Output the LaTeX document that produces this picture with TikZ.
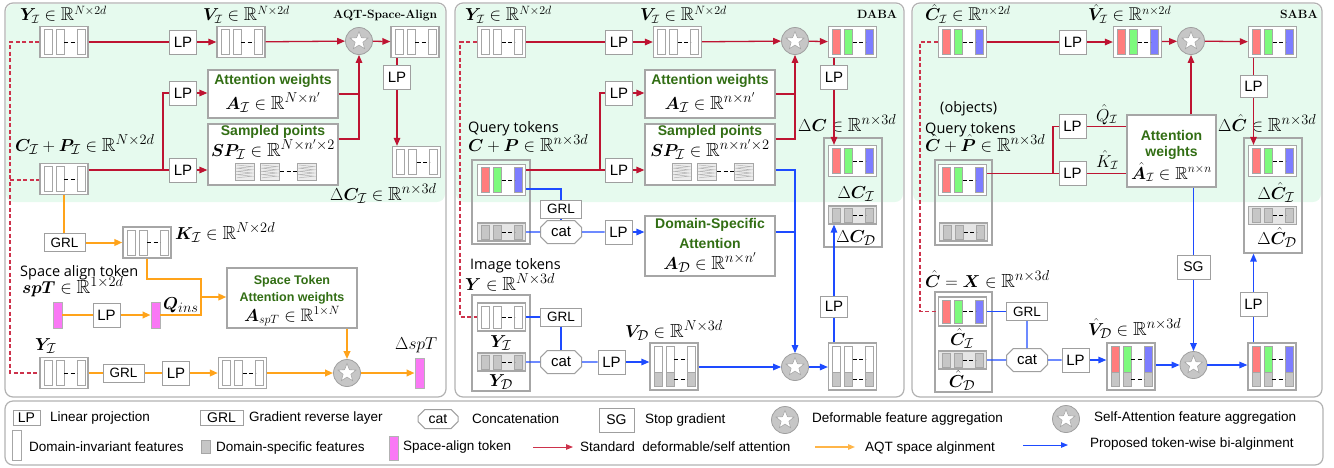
\documentclass[tikz,border=0pt]{standalone}
\usepackage{fontspec}
\usepackage{amsmath,amssymb,bm}
\newfontfamily\sansf{Liberation Sans}
\newfontfamily\opsf{Open Sans}
\usetikzlibrary{arrows.meta,shapes.geometric,shapes.misc,calc}
\definecolor{cRed}{RGB}{190,20,50}
\definecolor{cRedD}{RGB}{205,50,75}
\definecolor{cOra}{RGB}{255,163,26}
\definecolor{cBlu}{RGB}{30,75,255}
\definecolor{cGrn}{RGB}{50,110,20}
\definecolor{cBg}{RGB}{230,250,238}
\definecolor{cPink}{RGB}{250,120,245}
\definecolor{barR}{RGB}{255,125,125}
\definecolor{barG}{RGB}{125,250,125}
\definecolor{barB}{RGB}{125,125,255}
\tikzset{
  rl/.style={draw=cRed, line width=1.3pt},
  rd/.style={draw=cRedD, line width=1.1pt, dash pattern=on 4pt off 2.5pt},
  ol/.style={draw=cOra, line width=2pt},
  bl/.style={draw=cBlu, line width=1.3pt},
  arr/.style={-{Triangle[length=8pt,width=6.5pt]}},
  lp/.style={draw=gray!75, fill=white, line width=1pt, font=\sansf\fontsize{15}{15}\selectfont, minimum width=27pt, minimum height=24pt, inner sep=0pt},
  grl/.style={lp, font=\sansf\fontsize{13.5}{13.5}\selectfont, minimum width=41pt, minimum height=18pt},
  sgn/.style={lp, font=\sansf\fontsize{14}{14}\selectfont, minimum width=33pt, minimum height=24pt},
  catn/.style={chamfered rectangle, chamfered rectangle xsep=4pt, draw=gray!75, fill=white, line width=1pt, minimum width=41pt, minimum height=23pt, inner sep=0pt, font=\sansf\fontsize{15}{15}\selectfont},
  aggc/.style={circle, draw=gray!75, fill=gray!45, line width=0.8pt, minimum size=27pt, inner sep=0pt},
  aggs/.style={star, star points=5, star point ratio=2.3, draw=gray!70, fill=white, minimum size=19pt, inner sep=0pt, line width=0.6pt},
  fbox/.style={draw=gray!70, fill=white, line width=1.2pt, minimum width=48pt, inner sep=0pt},
  bar/.style={draw=gray!70, fill=white, line width=0.8pt},
  dsh/.style={draw=black, line width=0.8pt, dash pattern=on 4pt off 2.5pt},
  bx/.style={draw=gray!70, fill=white, line width=1.2pt, inner sep=0pt},
  obox/.style={draw=gray!70, line width=1.2pt, inner sep=0pt},
  pnl/.style={draw=gray!60, line width=1.2pt, rounded corners=8pt},
  pinkn/.style={draw=gray!60, fill=cPink, line width=0.8pt, minimum width=9pt, inner sep=0pt},
  ml/.style={font=\fontsize{19}{19}\selectfont, anchor=base west, inner sep=0pt},
  mt/.style={font=\fontsize{18.5}{18.5}\selectfont, anchor=base west, inner sep=0pt},
  mc/.style={font=\fontsize{19}{19}\selectfont, anchor=base, inner sep=0pt},
  gt/.style={text=cGrn, font=\sansf\bfseries\fontsize{14}{14}\selectfont, inner sep=0pt},
  gts/.style={text=cGrn, font=\sansf\bfseries\fontsize{12.5}{12.5}\selectfont, inner sep=0pt},
  ttl/.style={font=\bfseries\fontsize{12}{12}\selectfont, anchor=base west, inner sep=0pt},
  ot/.style={font=\opsf\fontsize{14.5}{14.5}\selectfont, anchor=base west, inner sep=0pt},
  lt/.style={font=\sansf\fontsize{13.5}{13.5}\selectfont, anchor=west, inner sep=0pt},
}
% name, cx, cy, height, three bar colours
\newcommand{\feat}[7]{%
  \node[fbox, minimum height=#4] (#1) at (#2,#3) {};
  \foreach \o/\c in {4/#5,16/#6,37/#7}{\draw[bar, fill=\c] ({#2-24+\o},{#3-#4/2+3}) rectangle ++(8,{#4-6});}
  \draw[dsh] ({#2},{#3}) -- ({#2+13},{#3});
}
\newcommand{\featG}[3]{%
  \node[fbox, fill=gray!20, minimum height=18pt] (#1) at (#2,#3) {};
  \foreach \o in {4,16,37}{\draw[bar, fill=gray!45] ({#2-24+\o},{#3-7}) rectangle ++(8,14);}
  \draw[dsh] ({#2},{#3}) -- ({#2+13},{#3});
}
\newcommand{\featM}[6]{%
  \node[fbox, minimum height=47pt] (#1) at (#2,#3) {};
  \foreach \o/\c in {4/#4,16/#5,37/#6}{%
    \draw[bar, fill=\c] ({#2-24+\o},{#3-20}) rectangle ++(8,26);
    \draw[bar, fill=gray!45] ({#2-24+\o},{#3+6}) rectangle ++(8,14);}
  \draw[dsh] ({#2},{#3-7}) -- ({#2+13},{#3-7});
  \draw[dsh] ({#2},{#3+13}) -- ({#2+13},{#3+13});
}
\newcommand{\agg}[3]{%
  \node[aggc] (#1) at (#2,#3) {};
  \node[aggs] (#1st) at (#2,#3) {};
}
\newcommand{\hatchrow}[2]{%
  \foreach \o in {27,52,89}{%
    \draw[draw=gray!70, fill=gray!15, line width=0.8pt] ({#1+\o},{#2}) rectangle ++(19,17);
    \draw[gray!60, line width=0.5pt] ({#1+\o+2},{#2+2}) \foreach \k in {1,...,8}{ -- ({#1+\o+2+15*mod(\k,2)},{#2+2+1.6*\k}) };
  }
  \draw[dsh] ({#1+72},{#2+8.5}) -- ({#1+89},{#2+8.5});
}
\begin{document}
\begin{tikzpicture}[x=1pt,y=-1pt]
\useasboundingbox (0,0) rectangle (1334,467);
% ---------------- backgrounds
\fill[cBg, rounded corners=8pt] (6,4) rectangle (445,202);
\fill[cBg, rounded corners=8pt] (456,4) rectangle (903,202);
\fill[cBg, rounded corners=8pt] (913,4) rectangle (1321,202);
\draw[pnl] (5,3) rectangle (446,397);
\draw[pnl] (455,3) rectangle (904,397);
\draw[pnl] (912,3) rectangle (1322,397);
\draw[pnl] (5,401) rectangle (1323,465);

% ================= Panel 1: AQT-Space-Align
\node[mt] (l11) at (20,20.5) {$\bm{Y}_{\mathcal{I}}\in\mathbb{R}^{N\times 2d}$};
\node[mt] (l12) at (203,20.5) {$\bm{V}_{\mathcal{I}}\in\mathbb{R}^{N\times 2d}$};
\node[ttl] (l13) at (333,18) {AQT-Space-Align};
\node[ml] (l14) at (15,151) {$\bm{C}_{\mathcal{I}}+\bm{P}_{\mathcal{I}}\in\mathbb{R}^{N\times 2d}$};
\node[ml] (l15) at (330,200) {$\Delta\bm{C}_{\mathcal{I}}\in\mathbb{R}^{n\times 3d}$};

\feat{p1y}{64}{42}{31}{white}{white}{white}
\node[lp] (p1lp1) at (183,42) {LP};
\feat{p1v}{241}{42}{31}{white}{white}{white}
\agg{p1s}{359}{41}
\feat{p1o}{415}{42}{31}{white}{white}{white}
\node[lp] (p1lp2) at (397,77) {LP};
\feat{p1dc}{416.5}{162}{31}{white}{white}{white}
\node[bx, minimum width=130pt, minimum height=48pt] (p1att) at (273,94) {};
\node[gt] (l16) at (273,81) {Attention weights};
\node[mc] (l17) at (273,109) {$\bm{A}_{\mathcal{I}}\in\mathbb{R}^{N\times n'}$};
\node[lp] (p1lpa) at (183,93) {LP};
\node[lp] (p1lpb) at (183,170) {LP};
\node[bx, minimum width=130pt, minimum height=61pt] (p1sp) at (273,154.5) {};
\node[gt] (l18) at (273,132) {Sampled points};
\node[mc] (l19) at (273,156) {$\bm{SP}_{\mathcal{I}}\in\mathbb{R}^{N\times n'\times 2}$};
\hatchrow{208}{163}
\feat{p1c}{64}{179}{31}{white}{white}{white}

\draw[rl] (p1y) -- (p1lp1);
\draw[rl,arr] (p1lp1) -- (p1v);
\draw[rl,arr] (p1v) -- (p1s);
\draw[rl,arr] (p1s) -- (p1o);
\draw[rl] (p1o.south -| p1lp2) -- (p1lp2);
\draw[rl,arr] (p1lp2) -- (p1lp2 |- p1dc.north);
\draw[rl] (p1c.east |- p1lpb) -- (p1lpb);
\coordinate (p1br) at (163,170);
\draw[rl] (p1br) |- (p1lpa.west);
\draw[rl,arr] (p1lpa) -- (p1lpa -| p1att.west);
\draw[rl,arr] (p1lpb) -- (p1lpb -| p1sp.west);
\draw[rl] (p1att.east) -- (p1att.east -| p1s);
\draw[rl,arr] (p1sp.east |- 0,139) -| (p1s.south);

% orange part
\node[grl] (p1grl) at (64.5,242.5) {GRL};
\feat{p1k}{147}{242.5}{31}{white}{white}{white}
\node[ml] (l20) at (175,239) {$\bm{K}_{\mathcal{I}}\in\mathbb{R}^{N\times 2d}$};
\node[ot] (l21) at (20,276) {Space align token};
\node[ml] (l22) at (22,293) {$\bm{spT}\in\mathbb{R}^{1\times 2d}$};
\node[pinkn, minimum height=26pt] (p1t) at (57.5,315) {};
\node[lp] (p1lp3) at (106.5,315) {LP};
\node[pinkn, minimum height=26pt] (p1q) at (155.5,315) {};
\node[ml] (l23) at (163,309) {$\bm{Q}_{ins}$};
\node[bx, minimum width=130pt, minimum height=60pt] (p1st) at (292,298) {};
\node[gts] (l24) at (292,281) {Space Token};
\node[gts] (l25) at (292,298) {Attention weights};
\node[mc, font=\fontsize{18}{18}\selectfont] (l26) at (292,321) {$\bm{A}_{spT}\in\mathbb{R}^{1\times N}$};
\node[ml] (l27) at (35,350) {$\bm{Y}_{\mathcal{I}}$};
\node[ml] (l28) at (395,349) {$\Delta spT$};
\feat{p1yb}{64}{373}{31}{white}{white}{white}
\node[grl] (p1grl2) at (123.5,373) {GRL};
\node[lp] (p1lp4) at (176,373) {LP};
\feat{p1vb}{242.5}{373}{31}{white}{white}{white}
\agg{p1s2}{347}{373}
\node[pinkn, minimum height=30pt] (p1dt) at (419.5,373) {};

\draw[ol] (p1c.south) -- (p1c.south |- p1grl.north);
\draw[ol,arr] (p1grl) -- (p1k);
\draw[ol] (p1k.south) |- (201,279) -- (201,315) -- (p1q.east);
\draw[ol,arr] (201,297) -- (p1st.west |- 0,297);
\draw[ol] (p1t) -- (p1lp3);
\draw[ol,arr] (p1lp3) -- (p1q);
\draw[ol,arr] (p1st.south -| p1s2) -- (p1s2.north);
\draw[ol] (p1yb) -- (p1grl2);
\draw[ol] (p1grl2) -- (p1lp4);
\draw[ol,arr] (p1lp4) -- (p1vb);
\draw[ol,arr] (p1vb) -- (p1s2);
\draw[ol,arr] (p1s2) -- (p1dt);

\draw[rd] (p1y.west) -- (10,42) -- (10,373) -- (p1yb.west);
\draw[rd] (10,180) -- (p1c.west |- 0,180);

% ================= Panel 2: DABA
\node[mt] (l31) at (465,20.5) {$\bm{Y}_{\mathcal{I}}\in\mathbb{R}^{N\times 2d}$};
\node[mt] (l32) at (640,20.5) {$\bm{V}_{\mathcal{I}}\in\mathbb{R}^{N\times 2d}$};
\node[ttl] (l33) at (857,18) {DABA};
\node[ot] (l34) at (468,132) {Query tokens};
\node[ml] (l35) at (468,151) {$\bm{C}+\bm{P}\in\mathbb{R}^{n\times 3d}$};
\node[ml] (l36) at (798,131) {$\Delta\bm{C}\in\mathbb{R}^{n\times 3d}$};
\node[ot] (l37) at (470,269) {Image tokens};
\node[ml] (l38) at (465,290) {$\bm{Y}\in\mathbb{R}^{N\times 3d}$};
\node[ml] (l39) at (625,337) {$\bm{V}_{\mathcal{D}}\in\mathbb{R}^{N\times 3d}$};

\feat{p2y}{501.5}{42}{31}{white}{white}{white}
\node[lp] (p2lp1) at (619,42) {LP};
\feat{p2v}{677.5}{42}{31}{white}{white}{white}
\agg{p2s}{795}{41}
\feat{p2o}{852.5}{42}{31}{barR}{barG}{barB}
\node[lp] (p2lp2) at (834,77) {LP};
\node[obox, minimum width=58pt, minimum height=109pt] (p2dcbox) at (853,192.5) {};
\feat{p2dci}{852.5}{161}{31}{barR}{barG}{barB}
\featG{p2dcd}{852.5}{215}
\node[mc] (l40) at (856,198) {$\Delta\bm{C}_{\mathcal{I}}$};
\node[mc] (l41) at (856,242) {$\Delta\bm{C}_{\mathcal{D}}$};

\node[bx, minimum width=130pt, minimum height=48pt] (p2att) at (710,94) {};
\node[gt] (l42) at (710,81) {Attention weights};
\node[mc] (l43) at (710,109) {$\bm{A}_{\mathcal{I}}\in\mathbb{R}^{n\times n'}$};
\node[lp] (p2lp3) at (619,93) {LP};
\node[lp] (p2lp4) at (619,170) {LP};
\node[bx, minimum width=130pt, minimum height=61pt] (p2sp) at (710,154.5) {};
\node[gt] (l44) at (710,132) {Sampled points};
\node[mc] (l45) at (710,156) {$\bm{SP}_{\mathcal{I}}\in\mathbb{R}^{n\times n'\times 2}$};
\hatchrow{645}{163}

\node[obox, minimum width=58pt, minimum height=84pt] (p2cp) at (501,202) {};
\feat{p2c}{501.5}{180}{31}{barR}{barG}{barB}
\featG{p2cg}{501.5}{232}
\node[grl] (p2grl1) at (561,209) {GRL};
\node[catn] (p2cat1) at (561,232) {cat};
\node[lp] (p2lp5) at (618.5,232) {LP};
\node[bx, minimum width=130pt, minimum height=60pt] (p2dsa) at (710,246) {};
\node[gt] (l46) at (710,225) {Domain-Specific};
\node[gt] (l47) at (710,243) {Attention};
\node[mc] (l48) at (710,269) {$\bm{A}_{\mathcal{D}}\in\mathbb{R}^{n\times n'}$};

\node[obox, minimum width=58pt, minimum height=96pt] (p2yo) at (501,343) {};
\feat{p2yi}{501.5}{317}{28}{white}{white}{white}
\featG{p2yd}{501.5}{362}
\node[mc] (l49) at (501,347) {$\bm{Y}_{\mathcal{I}}$};
\node[mc] (l50) at (501,386) {$\bm{Y}_{\mathcal{D}}$};
\node[grl] (p2grl2) at (561,317) {GRL};
\node[catn] (p2cat2) at (561,362) {cat};
\node[lp] (p2lp6) at (611.5,362) {LP};
\featM{p2vd}{674}{366.5}{white}{white}{white}
\agg{p2s2}{795}{367}
\featM{p2ob}{852.5}{366.5}{white}{white}{white}
\node[lp, minimum height=21pt] (p2lp7) at (834,306.5) {LP};

\draw[rl] (p2y) -- (p2lp1);
\draw[rl,arr] (p2lp1) -- (p2v);
\draw[rl,arr] (p2v) -- (p2s);
\draw[rl,arr] (p2s) -- (p2o);
\draw[rl] (p2o.south -| p2lp2) -- (p2lp2);
\draw[rl,arr] (p2lp2) -- (p2lp2 |- p2dci.north);
\draw[rl] (p2c.east |- p2lp4) -- (p2lp4);
\coordinate (p2br) at (600,170);
\draw[rl] (p2br) |- (p2lp3.west);
\draw[rl,arr] (p2lp3) -- (p2lp3 -| p2att.west);
\draw[rl,arr] (p2lp4) -- (p2lp4 -| p2sp.west);
\draw[rl] (p2att.east) -- (p2att.east -| p2s);
\draw[rl,arr] (p2sp.east |- 0,139) -| (p2s.south);
\draw[rd] (p2y.west) -- (460,42) -- (460,317) -- (p2yi.west);

\draw[bl] (p2c.east |- 0,189) -| (p2grl1.north);
\draw[bl] (p2grl1) -- (p2cat1);
\draw[bl] (p2cg) -- (p2cat1);
\draw[bl] (p2cat1) -- (p2lp5);
\draw[bl,arr] (p2lp5) -- (p2lp5 -| p2dsa.west);
\coordinate (p2bj) at (795,232);
\draw[bl] (p2dsa.east |- p2lp5) -- (p2bj);
\draw[bl,arr] (p2sp.east |- 0,170) -| (p2s2.north);
\draw[bl] (p2yi) -- (p2grl2);
\draw[bl] (p2grl2) -- (p2cat2);
\draw[bl] (p2yd) -- (p2cat2);
\draw[bl] (p2cat2) -- (p2lp6);
\draw[bl,arr] (p2lp6) -- (p2lp6 -| p2vd.west);
\draw[bl,arr] (p2vd.east |- p2s2) -- (p2s2);
\draw[bl,arr] (p2s2) -- (p2s2 -| p2ob.west);
\draw[bl] (p2ob.north -| p2lp7) -- (p2lp7);
\draw[bl,arr] (p2lp7) -- (p2lp7 |- p2dcd.south);

% ================= Panel 3: SABA
\node[mt] (l61) at (925,20.5) {$\hat{\bm{C}}_{\mathcal{I}}\in\mathbb{R}^{n\times 2d}$};
\node[mt] (l62) at (1088,20.5) {$\hat{\bm{V}}_{\mathcal{I}}\in\mathbb{R}^{n\times 2d}$};
\node[ttl] (l63) at (1280,18) {SABA};
\node[ot] (l64) at (940,112) {(objects)};
\node[ot] (l65) at (925,133) {Query tokens};
\node[ml] (l66) at (925,151) {$\hat{\bm{C}}+\hat{\bm{P}}\in\mathbb{R}^{n\times 3d}$};
\node[ml] (l67) at (1218,131) {$\Delta\hat{\bm{C}}\in\mathbb{R}^{n\times 3d}$};
\node[ml] (l68) at (925,287) {$\hat{\bm{C}}=\bm{X}\in\mathbb{R}^{n\times 3d}$};
\node[ml] (l69) at (1088,335) {$\hat{\bm{V}}_{\mathcal{D}}\in\mathbb{R}^{n\times 3d}$};
\node[ml, font=\fontsize{18}{18}\selectfont] (l70) at (1096,121) {$\hat{Q}_{\mathcal{I}}$};
\node[ml, font=\fontsize{18}{18}\selectfont] (l71) at (1096,167) {$\hat{K}_{\mathcal{I}}$};

\feat{p3c}{962.5}{42}{31}{barR}{barG}{barB}
\node[lp] (p3lp1) at (1073,42) {LP};
\feat{p3v}{1137.5}{42}{31}{barR}{barG}{barB}
\agg{p3s}{1191}{41}
\feat{p3o}{1272.5}{42}{31}{barR}{barG}{barB}
\node[lp, minimum height=22pt] (p3lp2) at (1253.5,86.5) {LP};
\node[obox, minimum width=58pt, minimum height=115pt] (p3dcbox) at (1273,195.5) {};
\feat{p3dci}{1272.5}{161}{31}{barR}{barG}{barB}
\featG{p3dcd}{1272.5}{215.5}
\node[mc] (l72) at (1276,199) {$\Delta\hat{\bm{C}}_{\mathcal{I}}$};
\node[mc] (l73) at (1277,244) {$\Delta\hat{\bm{C}}_{\mathcal{D}}$};

\node[bx, minimum width=89pt, minimum height=72pt] (p3att) at (1171.5,151) {};
\node[gt] (l74) at (1171.5,135) {Attention};
\node[gt] (l75) at (1171.5,153) {weights};
\node[mc, font=\fontsize{17.5}{17.5}\selectfont] (l76) at (1171.5,179) {$\hat{\bm{A}}_{\mathcal{I}}\in\mathbb{R}^{n\times n}$};
\node[lp] (p3lpq) at (1072.5,126.5) {LP};
\node[lp] (p3lpk) at (1072.5,173.5) {LP};
\node[obox, minimum width=57pt, minimum height=85pt] (p3cpo) at (963.5,202.5) {};
\feat{p3cp}{962.5}{180}{31}{barR}{barG}{barB}
\featG{p3cpg}{963.5}{232}

\node[obox, minimum width=57pt, minimum height=100pt] (p3xo) at (963.5,342) {};
\feat{p3xi}{962.5}{311.5}{29}{barR}{barG}{barB}
\featG{p3xd}{962.5}{360}
\node[mc] (l77) at (962,345) {$\hat{\bm{C}}_{\mathcal{I}}$};
\node[mc] (l78) at (962,387) {$\hat{\bm{C}}_{\mathcal{D}}$};
\node[grl] (p3grl) at (1027,311.5) {GRL};
\node[catn] (p3cat) at (1027,360) {cat};
\node[lp] (p3lp5) at (1075.5,360) {LP};
\featM{p3vd}{1131}{366.5}{barR}{barG}{barB}
\agg{p3s2}{1193.5}{365}
\featM{p3ob}{1272}{366.5}{barR}{barG}{barB}
\node[lp] (p3lp6) at (1253.5,304) {LP};
\node[sgn] (p3sg) at (1193.5,267) {SG};

\draw[rl] (p3c) -- (p3lp1);
\draw[rl,arr] (p3lp1) -- (p3v);
\draw[rl,arr] (p3v) -- (p3s);
\draw[rl,arr] (p3s) -- (p3o);
\draw[rl] (p3o.south -| p3lp2) -- (p3lp2);
\draw[rl,arr] (p3lp2) -- (p3lp2 |- p3dci.north);
\draw[rl] (p3cp.east |- p3lpk) -- (p3lpk);
\coordinate (p3br) at (1053,173.5);
\draw[rl] (p3br) |- (p3lpq.west);
\draw[rl] (p3lpq) -- (p3lpq -| p3att.west);
\draw[rl] (p3lpk) -- (p3lpk -| p3att.west);
\draw[rl,arr] (p3att.north -| p3s) -- (p3s.south);
\draw[rd] (p3c.west) -- (920,42) -- (920,311.5) -- (p3xi.west);

\draw[bl] (p3xi) -- (p3grl);
\draw[bl] (p3grl) -- (p3cat);
\draw[bl] (p3xd) -- (p3cat);
\draw[bl] (p3cat) -- (p3lp5);
\draw[bl,arr] (p3lp5) -- (p3lp5 -| p3vd.west);
\draw[bl,arr] (p3vd.east |- p3s2) -- (p3s2);
\draw[bl,arr] (p3s2) -- (p3s2 -| p3ob.west);
\draw[bl] (p3ob.north -| p3lp6) -- (p3lp6);
\draw[bl,arr] (p3lp6) -- (p3lp6 |- p3dcbox.south);
\draw[bl] (p3att.south -| p3sg) -- (p3sg);
\draw[bl,arr] (p3sg) -- (p3s2);

% ================= Legend
\node[lp, minimum height=15pt, font=\sansf\fontsize{14}{14}\selectfont] (lgLP) at (26.5,418) {LP};
\node[lt] (lg1) at (50,418) {Linear projection};
\node[lp, minimum width=43pt, minimum height=15pt, font=\sansf\fontsize{14}{14}\selectfont] (lgGRL) at (221.5,418) {GRL};
\node[lt] (lg2) at (249,418) {Gradient reverse layer};
\node[catn, minimum width=40pt, minimum height=19pt, font=\sansf\fontsize{14}{14}\selectfont] (lgcat) at (438,419) {cat};
\node[lt] (lg3) at (472,419) {Concatenation};
\node[sgn, minimum width=35pt] (lgSG) at (616.5,420) {SG};
\node[lt] (lg4) at (645,420) {Stop gradient};
\agg{lgs1}{785}{420}
\node[lt] (lg5) at (812,419) {Deformable feature aggregation};
\agg{lgs2}{1066}{419}
\node[lt] (lg6) at (1094,418) {Self-Attention feature aggregation};
\node[draw=gray!70, fill=white, line width=1pt, minimum width=9pt, minimum height=30pt, inner sep=0pt] (lgdi) at (16.5,445) {};
\node[lt] (lg7) at (29,447) {Domain-invariant features};
\node[draw=gray!70, fill=gray!45, line width=0.8pt, minimum width=9pt, minimum height=13pt, inner sep=0pt] (lgds) at (205.5,446.5) {};
\node[lt] (lg8) at (216,448) {Domain-specific features};
\node[pinkn, minimum height=24pt] (lgsp) at (393.5,448) {};
\node[lt] (lg9) at (403,447) {Space-align token};
\coordinate (lgr1) at (533,447); \coordinate (lgr2) at (573,447);
\draw[draw=cRedD, line width=1pt, -{Triangle[length=7pt,width=5.5pt]}] (lgr1) -- (lgr2);
\node[lt] (lg10) at (580,447) {Standard\ \ deformable/self attention};
\coordinate (lgo1) at (815,447); \coordinate (lgo2) at (855,447);
\draw[draw=cOra!80, line width=1.3pt, -{Triangle[length=7pt,width=5.5pt]}] (lgo1) -- (lgo2);
\node[lt] (lg11) at (865,448) {AQT space alginment};
\coordinate (lgb1) at (1023,445); \coordinate (lgb2) at (1068,445);
\draw[draw=cBlu, line width=1pt, -{Triangle[length=7pt,width=5.5pt]}] (lgb1) -- (lgb2);
\node[lt] (lg12) at (1090,444) {Proposed token-wise bi-alginment};
\end{tikzpicture}
\end{document}
